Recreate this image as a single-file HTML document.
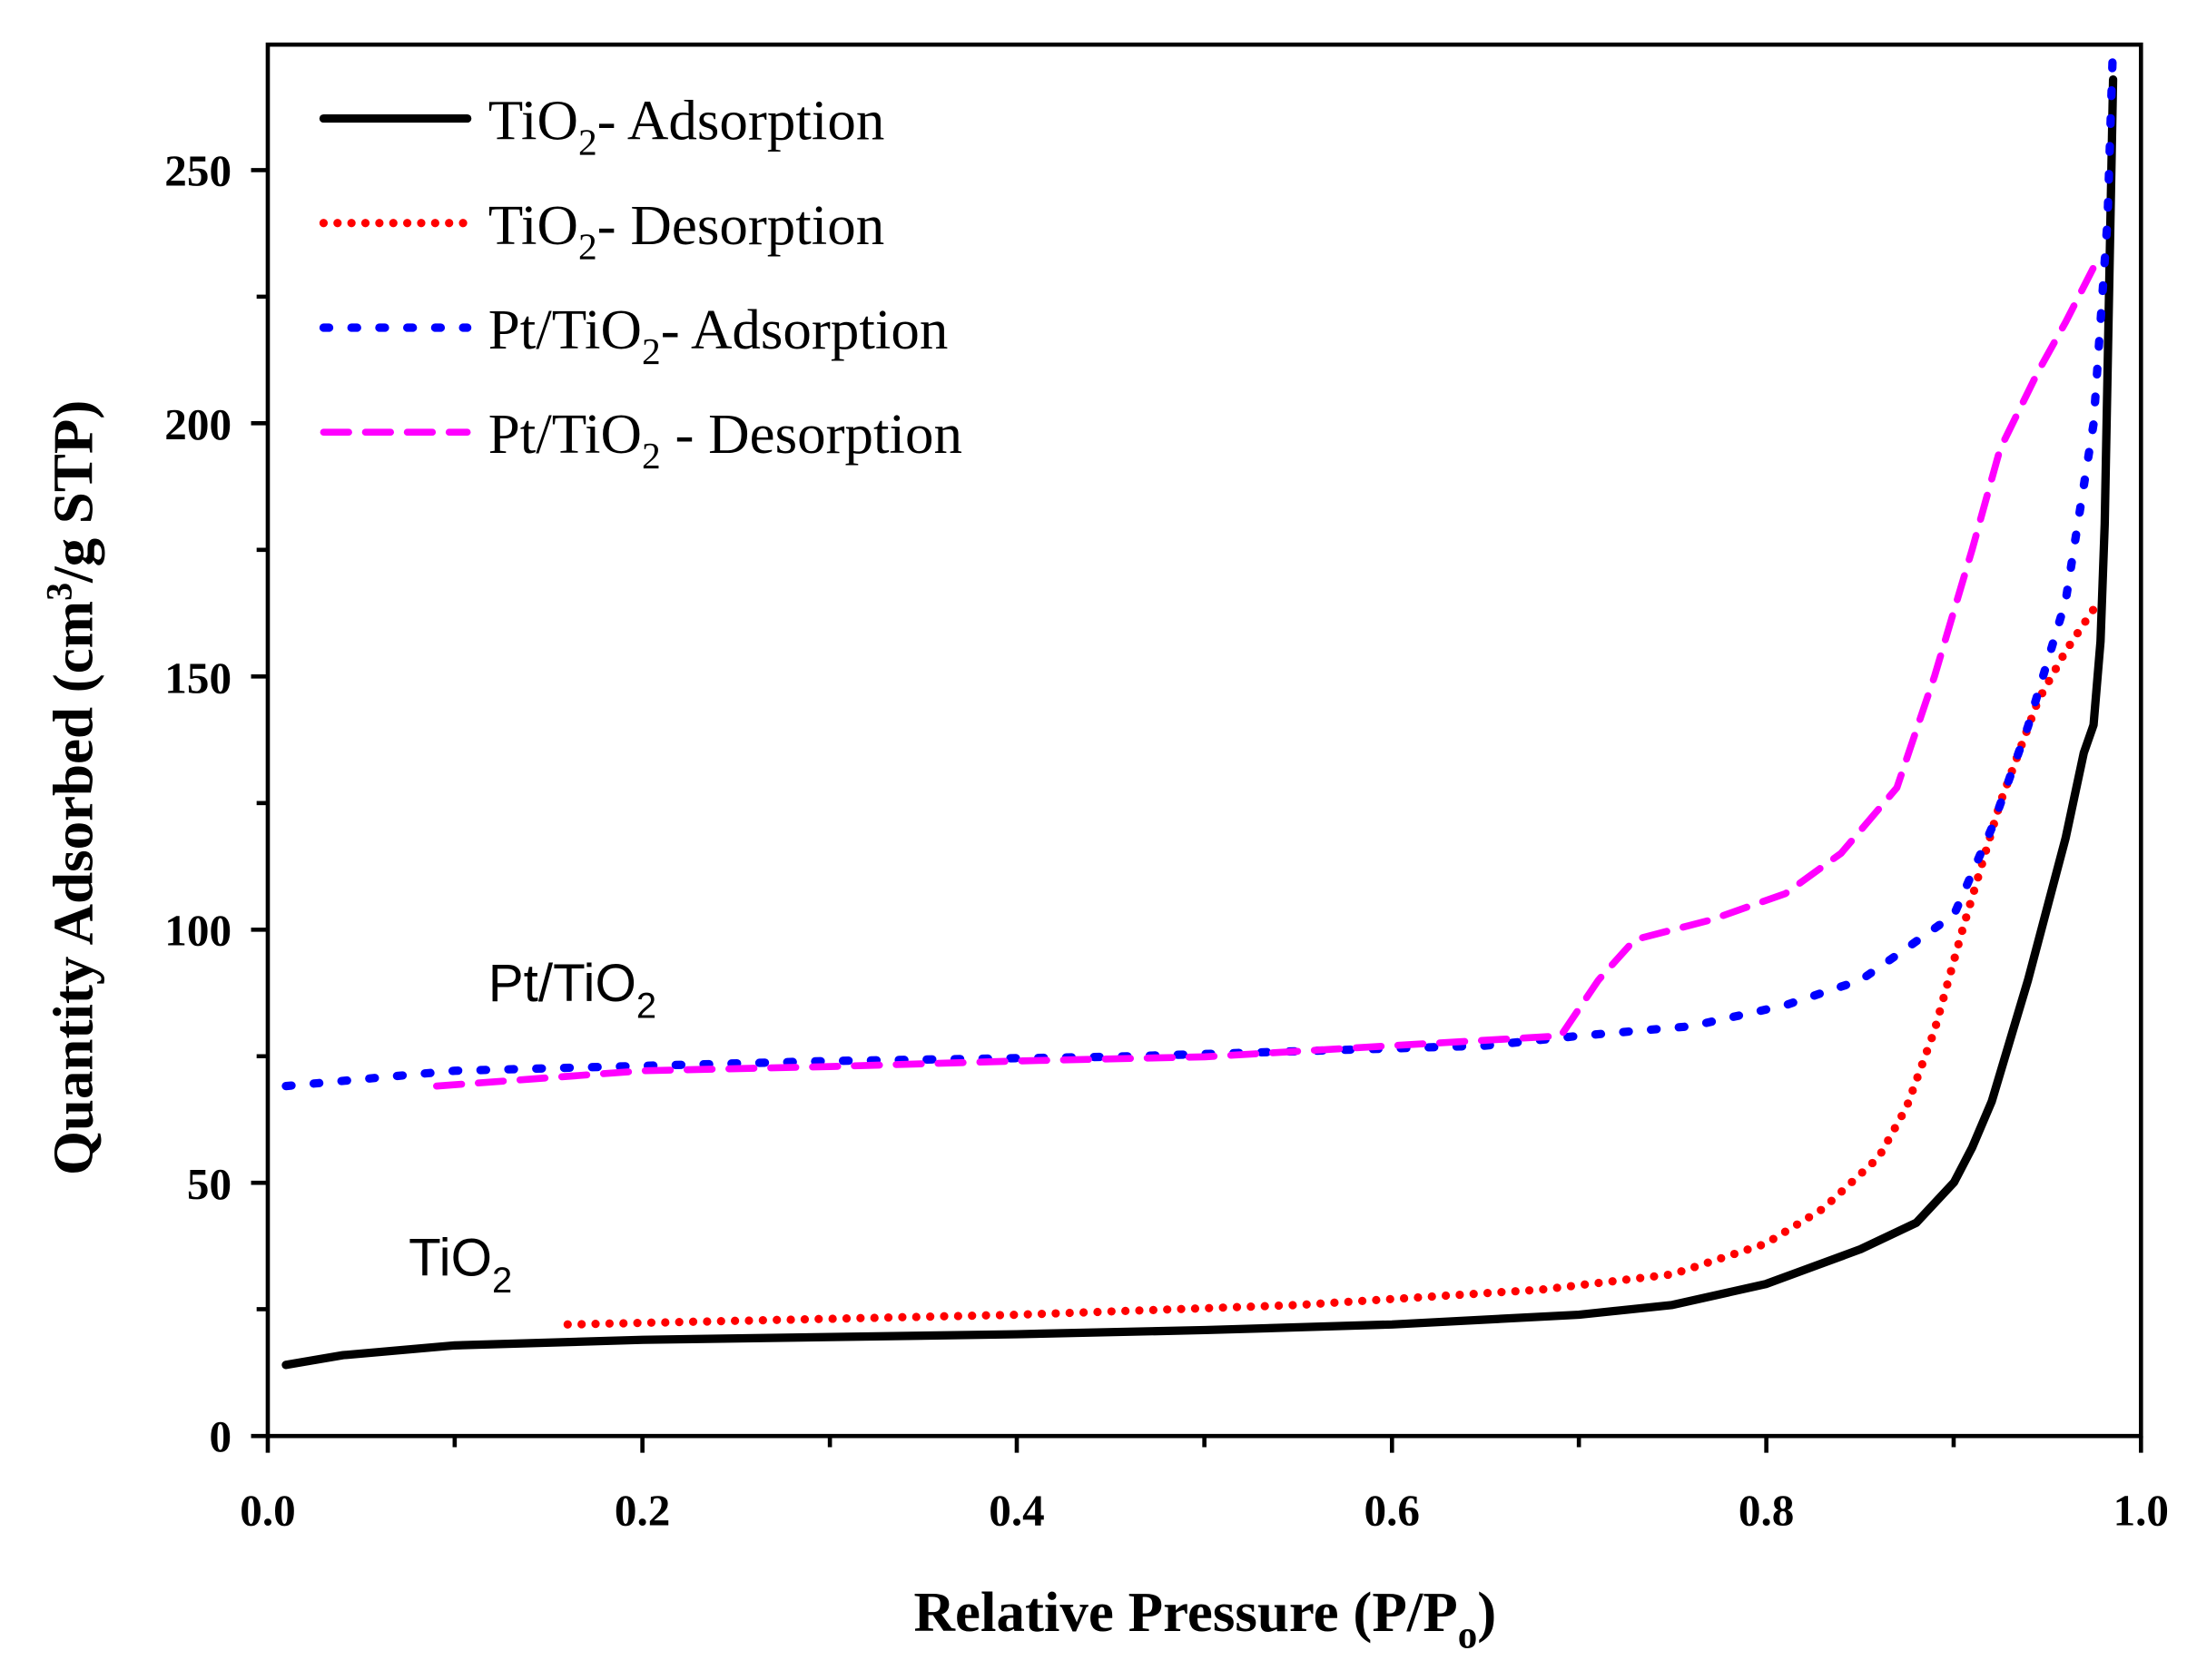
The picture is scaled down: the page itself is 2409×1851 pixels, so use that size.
<!DOCTYPE html>
<html><head><meta charset="utf-8"><style>html,body{margin:0;padding:0;background:#fff}svg{display:block}</style></head>
<body>
<svg width="2409" height="1851" viewBox="0 0 1568 1205" preserveAspectRatio="none" xmlns="http://www.w3.org/2000/svg">
<rect width="1568" height="1205" fill="#fff"/>
<g stroke="#000" stroke-width="3" fill="none">
<rect x="192" y="32" width="1343" height="998"/>
<path d="M192,1030v12 M326,1030v8 M460.6,1030v12 M595,1030v8 M729,1030v12 M863.5,1030v8 M998,1030v12 M1132,1030v8 M1266.4,1030v12 M1400.7,1030v8 M1535,1030v12"/>
<path d="M192,1030h-12 M192,939h-8 M192,848.4h-12 M192,757.6h-8 M192,666.8h-12 M192,576h-8 M192,485.2h-12 M192,394.4h-8 M192,303.6h-12 M192,212.8h-8 M192,122h-12"/>
</g>
<g font-family="Liberation Serif, serif" font-weight="bold" font-size="32" fill="#000">
<g text-anchor="middle">
<text x="192" y="1094">0.0</text><text x="460.6" y="1094">0.2</text><text x="729" y="1094">0.4</text><text x="998" y="1094">0.6</text><text x="1266.4" y="1094">0.8</text><text x="1535" y="1094">1.0</text>
</g>
<g text-anchor="end">
<text x="166" y="1041">0</text><text x="166" y="860">50</text><text x="166" y="678">100</text><text x="166" y="497">150</text><text x="166" y="315">200</text><text x="166" y="133">250</text>
</g>
<text x="864" y="1170" text-anchor="middle" font-size="41">Relative Pressure (P/P<tspan font-size="28" dy="12">o</tspan><tspan dy="-12">)</tspan></text>
<text transform="translate(66,565) rotate(-90)" text-anchor="middle" font-size="41">Quantity Adsorbed (cm<tspan font-size="26" dy="-15">3</tspan><tspan dy="15">/g STP)</tspan></text>
</g>
<g fill="none" stroke-linecap="round" stroke-linejoin="round">
<polyline stroke="#000" stroke-width="6" points="205,979 246,972 326,965 461,961 729,957 864,954 998,950 1132,943 1199,936 1266,921 1334,896 1374,877 1401,848 1414,823 1428,790 1454,703 1481,601 1494,540 1501,520 1506,460 1509,376 1515,57"/>
<polyline stroke="#f00" stroke-width="6" stroke-dasharray="0 10" points="407,950 729,943 931,936 1105,925 1199,914 1266,892 1307,867 1347,830 1367,794 1387,739 1407,667 1434,576 1461,503 1481,467 1505,431"/>
<polyline stroke="#00f" stroke-width="6" stroke-dasharray="4 16" points="205,779 326,768 595,761 796,758 931,754 1065,750 1132,743 1213,736 1280,721 1334,703 1360,685 1401,656 1428,594 1454,521 1481,431 1501,304 1511,158 1515,31"/>
<polyline stroke="#f0f" stroke-width="5" stroke-dasharray="18 12" points="313,779 461,768 595,765 729,761 864,758 998,750 1119,743 1146,703 1172,674 1226,660 1280,641 1320,612 1360,565 1387,485 1414,394 1434,322 1461,267 1481,231 1505,184"/>
<line x1="232" y1="85" x2="335" y2="85" stroke="#000" stroke-width="6"/>
<line x1="232" y1="160" x2="335" y2="160" stroke="#f00" stroke-width="6" stroke-dasharray="0 10"/>
<line x1="232" y1="235" x2="335" y2="235" stroke="#00f" stroke-width="6" stroke-dasharray="4 16"/>
<line x1="232" y1="310" x2="335" y2="310" stroke="#f0f" stroke-width="5" stroke-dasharray="18 12"/>
</g>
<g font-family="Liberation Serif, serif" font-size="41" fill="#000">
<text x="350" y="100">TiO<tspan font-size="27" dy="11">2</tspan><tspan dy="-11">- Adsorption</tspan></text>
<text x="350" y="175">TiO<tspan font-size="27" dy="11">2</tspan><tspan dy="-11">- Desorption</tspan></text>
<text x="350" y="250">Pt/TiO<tspan font-size="27" dy="11">2</tspan><tspan dy="-11">- Adsorption</tspan></text>
<text x="350" y="325">Pt/TiO<tspan font-size="27" dy="11">2</tspan><tspan dy="-11"> - Desorption</tspan></text>
</g>
<g font-family="Liberation Sans, sans-serif" font-size="38" fill="#000">
<text x="350" y="718">Pt/TiO<tspan font-size="26" dy="12">2</tspan></text>
<text x="293" y="915">TiO<tspan font-size="26" dy="12">2</tspan></text>
</g>
</svg>
</body></html>
